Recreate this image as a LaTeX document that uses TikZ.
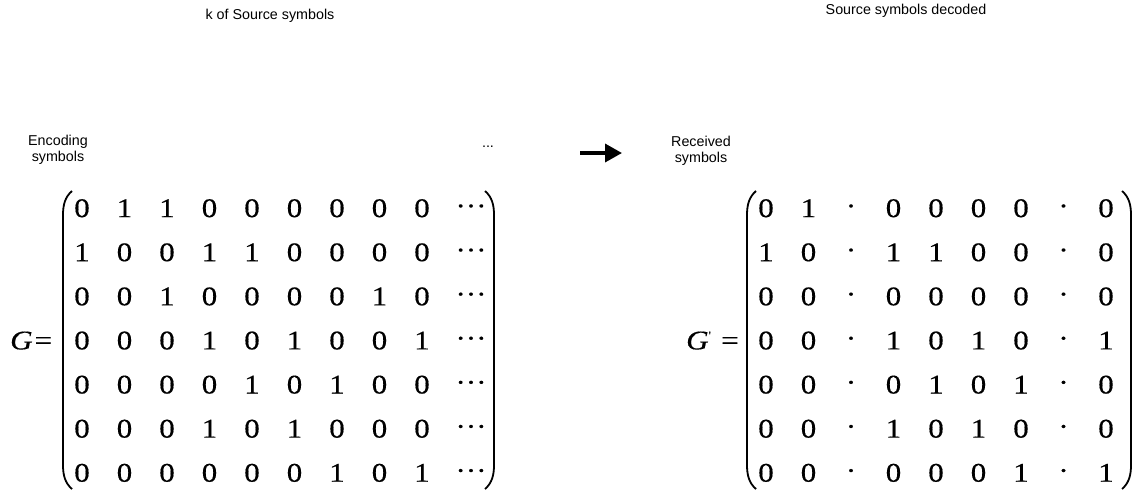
\documentclass[tikz,border=0pt]{standalone}
\usepackage{fontspec}
\setmainfont{Liberation Serif}
\newfontfamily\labfont{Liberation Sans}
\newfontfamily\mtxfont[FakeStretch=1.15,FakeBold=0.4]{Liberation Serif}
\usetikzlibrary{arrows.meta}

\tikzset{
  lab/.style={font=\labfont\fontsize{14.3}{16}\selectfont, inner sep=0pt, align=center},
  entry/.style={font=\mtxfont\fontsize{27}{27}\selectfont, inner sep=0pt, anchor=base},
  lhs/.style={font=\mtxfont\fontsize{27}{27}\selectfont, inner sep=0pt, anchor=base west},
  paren/.style={line width=1.8pt},
  bigarrow/.style={line width=3.5pt, -{Triangle[length=17pt,width=18pt]}}
}

% opening and closing parentheses: x of the stem, top y, bottom y
\newcommand\openparen[3]{%
  \draw[paren] ({#1+9},#2) .. controls ({#1+2},{#2+6}) and (#1,{#2+14}) .. (#1,{#2+24})
    -- (#1,{#3-24}) .. controls (#1,{#3-14}) and ({#1+2},{#3-6}) .. ({#1+9},#3);}
\newcommand\closeparen[3]{%
  \draw[paren] ({#1-9},#2) .. controls ({#1-2},{#2+6}) and (#1,{#2+14}) .. (#1,{#2+24})
    -- (#1,{#3-24}) .. controls (#1,{#3-14}) and ({#1-2},{#3-6}) .. ({#1-9},#3);}

\begin{document}
\begin{tikzpicture}[x=1pt,y=-1pt]
\useasboundingbox (0,0) rectangle (1134,491);

% headings
\node[lab] (ksrc) at (270,16) {k of Source symbols};
\node[lab] (decoded) at (906,11) {Source symbols decoded};
\node[lab] (enc) at (58,150) {Encoding\\symbols};
\node[lab] (rec) at (701,150.5) {Received\\symbols};
\node[lab] (more) at (488,147) {...};

% transmission arrow
\coordinate (arrtail) at (580,153);
\coordinate (arrhead) at (622,153);
\draw[bigarrow] (arrtail) -- (arrhead);

% generator matrix G
\node[lhs] (G) at (10,349.4) {\itshape G=};
\openparen{63}{191}{489}
\closeparen{494}{191}{489}
\foreach \row [count=\r] in {
  {0,1,1,0,0,0,0,0,0},
  {1,0,0,1,1,0,0,0,0},
  {0,0,1,0,0,0,0,1,0},
  {0,0,0,1,0,1,0,0,1},
  {0,0,0,0,1,0,1,0,0},
  {0,0,0,1,0,1,0,0,0},
  {0,0,0,0,0,0,1,0,1}} {
  \foreach \v [count=\c] in \row {
    \node[entry] (g-\r-\c) at ({82+42.5*(\c-1)},{217.1+44.1*(\r-1)}) {\v};
  }
  \node[entry] (g-\r-10) at (471,{214.9+44.1*(\r-1)}) {\textperiodcentered\textperiodcentered\textperiodcentered};
}

% received matrix G'
\node[lhs] (Gp) at (686,349.4) {\itshape G\raisebox{10.5pt}{\fontsize{11}{11}\selectfont\upshape '}};
\node[lhs] (eqp) at (721,349.4) {=};
\openparen{747}{191}{489}
\closeparen{1131}{191}{489}
% 2 marks an erased column entry
\foreach \row [count=\r] in {
  {0,1,2,0,0,0,0,2,0},
  {1,0,2,1,1,0,0,2,0},
  {0,0,2,0,0,0,0,2,0},
  {0,0,2,1,0,1,0,2,1},
  {0,0,2,0,1,0,1,2,0},
  {0,0,2,1,0,1,0,2,0},
  {0,0,2,0,0,0,1,2,1}} {
  \foreach \v [count=\c] in \row {
    \ifnum\v=2
      \node[entry] (h-\r-\c) at ({766+42.5*(\c-1)},{214.9+44.1*(\r-1)}) {\textperiodcentered};
    \else
      \node[entry] (h-\r-\c) at ({766+42.5*(\c-1)},{217.1+44.1*(\r-1)}) {\v};
    \fi
  }
}
\end{tikzpicture}
\end{document}
